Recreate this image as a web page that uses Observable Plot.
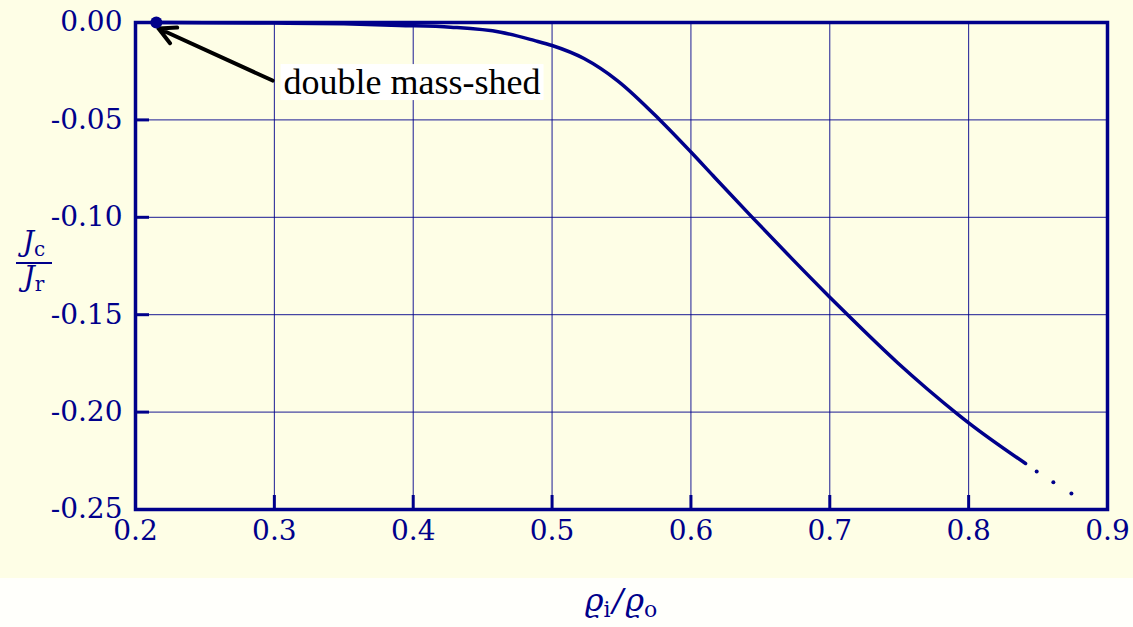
<!DOCTYPE html>
<html><head><meta charset="utf-8">
<script src="https://cdn.jsdelivr.net/npm/d3@7"></script>
<script src="https://cdn.jsdelivr.net/npm/@observablehq/plot@0.6"></script>
<style>
html,body{margin:0;padding:0;background:#fffffb;}
#chart{width:1133px;height:627px;}
</style></head><body><div id="chart"></div>
<script>
// ---- data ----
const ratio = [0.215, 0.25, 0.30, 0.35, 0.39, 0.427, 0.463, 0.487, 0.50, 0.523, 0.547, 0.578, 0.60, 0.616, 0.644, 0.672, 0.700, 0.713, 0.749, 0.770, 0.792, 0.80, 0.841];
const jcjr  = [0, -0.0001, -0.0003, -0.0007, -0.0015, -0.0024, -0.005, -0.0092, -0.0118, -0.0185, -0.0298, -0.0503, -0.0665, -0.0787, -0.0999, -0.1207, -0.1410, -0.1502, -0.1748, -0.1880, -0.2010, -0.2055, -0.2264];
const tailRatio = [0.849, 0.861, 0.874];
const tailJ     = [-0.2305, -0.236, -0.2418];
const markerRatio = [0.215];
const markerJ     = [0];
const arrowFrom = [0.2987, -0.0298];
const arrowTo   = [0.2166, -0.0031];
const annotationLabel = "double mass-shed";
const xTicks = [0.2, 0.3, 0.4, 0.5, 0.6, 0.7, 0.8, 0.9];
const yTicks = [0, -0.05, -0.10, -0.15, -0.20, -0.25];

const curve = ratio.map((x, i) => ({x, y: jcjr[i]}));
const tail = tailRatio.map((x, i) => ({x, y: tailJ[i]}));
const marker = markerRatio.map((x, i) => ({x, y: markerJ[i]}));
const arrows = [{x1: arrowFrom[0], y1: arrowFrom[1], x2: arrowTo[0], y2: arrowTo[1], label: annotationLabel}];

const navy = "#00008b";
const W = 1133, H = 627, mL = 135, mR = 26, mT = 22, mB = 118;
const innerW = W - mL - mR, innerH = H - mT - mB;

const plot = Plot.plot({
  width: W, height: H,
  marginLeft: mL, marginRight: mR, marginTop: mT, marginBottom: mB,
  style: {background: "transparent", fontFamily: "DejaVu Serif", fontSize: "28px", color: navy, overflow: "visible"},
  x: {domain: [0.2, 0.9]},
  y: {domain: [-0.25, 0]},
  marks: [
    Plot.gridX(xTicks, {stroke: navy, strokeOpacity: 0.9, strokeWidth: 1}),
    Plot.gridY(yTicks, {stroke: navy, strokeOpacity: 0.9, strokeWidth: 1}),
    Plot.axisX(xTicks, {tickSize: 0, tickPadding: 11, tickFormat: d => d.toFixed(1), label: null, fill: navy, fontSize: 28}),
    Plot.axisY(yTicks, {tickSize: 0, tickPadding: 13, tickFormat: d => d.toFixed(2), label: null, fill: navy, fontSize: 28}),
    Plot.ruleX(xTicks.slice(1, -1), {x: d => d, stroke: navy, strokeWidth: 3, insetTop: innerH - 14}),
    Plot.ruleY(yTicks.slice(1, -1), {y: d => d, stroke: navy, strokeWidth: 3, insetRight: innerW - 14}),
    Plot.text(arrows, {x: "x1", y: "y1", text: "label", textAnchor: "start", dx: 11, dy: 2, fill: "black",
      fontFamily: "Liberation Serif", fontSize: 36, className: "annot"}),
    Plot.arrow(arrows, {x1: "x1", y1: "y1", x2: "x2", y2: "y2", stroke: "black", strokeWidth: 4, headLength: 7, headAngle: 55}),
    Plot.line(curve, {x: "x", y: "y", stroke: navy, strokeWidth: 3.5, curve: "monotone-x"}),
    Plot.dot(tail, {x: "x", y: "y", r: 2, fill: navy}),
    Plot.dot(marker, {x: "x", y: "y", r: 6, fill: navy}),
    Plot.frame({stroke: navy, strokeWidth: 3.5})
  ]
});
plot.style.background = "linear-gradient(to bottom, #fefee6 0px, #fefee6 578px, #fffffb 578px)";
document.getElementById("chart").appendChild(plot);

const svg = d3.select(plot);
// white box behind annotation
svg.selectAll(".annot text").each(function () {
  const b = this.getBBox();
  const t = this.getAttribute("transform");
  const r = d3.select(this.parentNode).insert("rect", "text")
    .attr("x", b.x - 3).attr("y", b.y + 2).attr("width", b.width + 6).attr("height", b.height - 4)
    .attr("fill", "white");
  if (t) r.attr("transform", t);
});

// x-axis label ϱi/ϱo
const xl = svg.append("text")
  .attr("x", mL + innerW / 2).attr("y", 611).attr("text-anchor", "middle")
  .attr("fill", navy).attr("font-family", "DejaVu Serif").attr("font-size", 32);
xl.append("tspan").attr("font-style", "italic").text("ϱ");
xl.append("tspan").attr("font-size", 22).attr("dy", 6).text("i");
xl.append("tspan").attr("dy", -6).attr("dx", 2).attr("font-style", "italic").text("/");
xl.append("tspan").attr("dx", 2).attr("font-style", "italic").text("ϱ");
xl.append("tspan").attr("font-size", 22).attr("dy", 6).text("o");

// y-axis label Jc / Jr (fraction)
const yl = svg.append("g").attr("fill", navy).attr("font-family", "DejaVu Serif");
const num = yl.append("text").attr("x", 34).attr("y", 251).attr("text-anchor", "middle").attr("font-size", 28);
num.append("tspan").attr("font-style", "italic").text("J");
num.append("tspan").attr("font-size", 20).attr("dy", 5).text("c");
yl.append("line").attr("x1", 16).attr("x2", 52).attr("y1", 263).attr("y2", 263).attr("stroke", navy).attr("stroke-width", 2);
const den = yl.append("text").attr("x", 34).attr("y", 286).attr("text-anchor", "middle").attr("font-size", 28);
den.append("tspan").attr("font-style", "italic").text("J");
den.append("tspan").attr("font-size", 20).attr("dy", 5).text("r");
</script></body></html>
